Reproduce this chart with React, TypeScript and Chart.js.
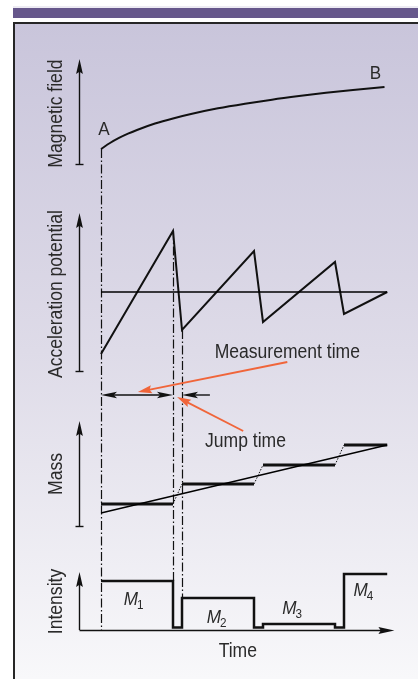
import React, { useEffect, useRef } from 'react';
import { Chart, registerables } from 'chart.js';

Chart.register(...registerables);

// ---- Data (time in arbitrary units: one scan = measurement 8 + jump 1) ----
const scanStart = [0, 9, 18, 27];
const scanEnd = [8, 17, 26, 31.8];

const fieldTimes = [0, 1, 2, 3, 4, 6, 8, 10, 13, 16, 19, 22, 25, 28, 31.5];
const fieldValues = [1.43, 2.0, 2.48, 2.89, 3.24, 3.85, 4.34, 4.76, 5.3, 5.74, 6.13, 6.47, 6.78, 7.05, 7.34];

const accStartValues = [-6.2, -3.8, -3.0, -2.2];
const accEndValues = [6.1, 4.1, 3.0, 0];
const accMean = 0;

const massLevels = [2.2, 4.2, 6.1, 8.1];
const massTrend = [1.3, 8.1];

const intensityLevels = [4.9, 3.2, 0.6, 5.6];
const intensityGap = 0.25;
const peakSubscripts = ['1', '2', '3', '4'];

const axisLabels = ['Magnetic field', 'Acceleration potential', 'Mass', 'Intensity'];

// ---- Panel layout (axis placement, not data) ----
const H = 679;
const W = 418;
const panels = [
  { id: 'yField', zero: 164, ppu: 10.5, from: 0, to: 10, labelAt: 4.8, tick: true },
  { id: 'yAcc', zero: 292, ppu: 10, from: -7.9, to: 7.9, labelAt: -0.2, tick: true },
  { id: 'yMass', zero: 526, ppu: 10, from: 0, to: 10.5, labelAt: 5.2, tick: true },
  { id: 'yInt', zero: 630, ppu: 10, from: 0, to: 5.8, labelAt: 2.85, tick: false },
];
const AXIS_T = -2.44;
const FONT = "'Liberation Sans', Arial, Helvetica, sans-serif";
const TEXT = '#2a2a2a';
const ORANGE = '#f0653a';
const SX = 0.9;

function head(ctx: CanvasRenderingContext2D, tx: number, ty: number, fx: number, fy: number, len: number, half: number, notch: number) {
  const dx = tx - fx, dy = ty - fy;
  const d = Math.hypot(dx, dy) || 1;
  const ux = dx / d, uy = dy / d;
  const nx = -uy, ny = ux;
  const bx = tx - ux * len, by = ty - uy * len;
  ctx.beginPath();
  ctx.moveTo(tx, ty);
  ctx.lineTo(bx + nx * half, by + ny * half);
  ctx.lineTo(tx - ux * len * (1 - notch), ty - uy * len * (1 - notch));
  ctx.lineTo(bx - nx * half, by - ny * half);
  ctx.closePath();
  ctx.fill();
}

function arrow(ctx: CanvasRenderingContext2D, fx: number, fy: number, tx: number, ty: number, color: string, lw: number, len: number, half: number, notch: number) {
  const dx = tx - fx, dy = ty - fy;
  const d = Math.hypot(dx, dy) || 1;
  ctx.strokeStyle = color;
  ctx.fillStyle = color;
  ctx.lineWidth = lw;
  ctx.beginPath();
  ctx.moveTo(fx, fy);
  ctx.lineTo(tx - (dx / d) * len * 0.6, ty - (dy / d) * len * 0.6);
  ctx.stroke();
  head(ctx, tx, ty, fx, fy, len, half, notch);
}

// condensed text: draws with horizontal scale SX around (x, y)
function ctext(ctx: CanvasRenderingContext2D, s: string, x: number, y: number, size: number, align: CanvasTextAlign = 'center', italic = false) {
  ctx.save();
  ctx.translate(x, y);
  ctx.scale(SX, 1);
  ctx.font = `${italic ? 'italic ' : ''}${size}px ${FONT}`;
  ctx.textAlign = align;
  ctx.textBaseline = 'alphabetic';
  ctx.fillText(s, 0, 0);
  ctx.restore();
}

const decor = {
  id: 'decor',
  beforeDraw(chart: any) {
    const ctx = chart.ctx as CanvasRenderingContext2D;
    ctx.save();
    ctx.fillStyle = '#ffffff';
    ctx.fillRect(0, 0, W, H);
    ctx.fillStyle = '#dcd8e8';
    ctx.fillRect(13, 6.5, W - 13, 1);
    ctx.fillStyle = '#66578b';
    ctx.fillRect(13, 8, W - 13, 10);
    const g = ctx.createLinearGradient(0, 24, 0, H);
    g.addColorStop(0, '#c9c5db');
    g.addColorStop(0.5, '#dedbe8');
    g.addColorStop(1, '#f8f8fa');
    ctx.fillStyle = g;
    ctx.fillRect(14, 23, W - 14, H - 23);
    ctx.fillStyle = '#262626';
    ctx.fillRect(13, 22, W - 13, 2);
    ctx.fillRect(13, 22, 2, H - 22);
    ctx.restore();
  },
  beforeDatasetsDraw(chart: any) {
    const ctx = chart.ctx as CanvasRenderingContext2D;
    const X = (t: number) => chart.scales.x.getPixelForValue(t);
    const Y = (id: string, v: number) => chart.scales[id].getPixelForValue(v);
    ctx.save();
    ctx.strokeStyle = '#111';
    ctx.lineWidth = 1.2;
    ctx.setLineDash([9, 2.5, 1.5, 2.5]);
    const lines = [
      [X(scanStart[0]), Y('yField', fieldValues[0]), Y('yInt', 0)],
      [X(scanEnd[0]), Y('yAcc', accEndValues[0]), Y('yInt', intensityLevels[0])],
      [X(scanStart[1]), Y('yAcc', accStartValues[1]), Y('yInt', intensityLevels[1])],
    ];
    lines.forEach(([x, y0, y1]) => {
      ctx.beginPath();
      ctx.moveTo(Math.round(x) + 0.5, y0);
      ctx.lineTo(Math.round(x) + 0.5, y1);
      ctx.stroke();
    });
    ctx.restore();
  },
  afterDatasetsDraw(chart: any) {
    const ctx = chart.ctx as CanvasRenderingContext2D;
    const X = (t: number) => chart.scales.x.getPixelForValue(t);
    const Y = (id: string, v: number) => chart.scales[id].getPixelForValue(v);
    ctx.save();
    const ax = Math.round(X(AXIS_T)) + 0.5;
    // panel axes
    panels.forEach((p) => {
      const yb = Y(p.id, p.from), yt = Y(p.id, p.to);
      ctx.strokeStyle = '#111';
      ctx.fillStyle = '#111';
      ctx.lineWidth = 1.4;
      ctx.beginPath();
      ctx.moveTo(ax, yb);
      ctx.lineTo(ax, yt + 8);
      ctx.stroke();
      head(ctx, ax, yt, ax, yb, 15, 3.4, 0.15);
      if (p.tick) {
        ctx.beginPath();
        ctx.moveTo(ax - 4, Math.round(yb) + 0.5);
        ctx.lineTo(ax + 4, Math.round(yb) + 0.5);
        ctx.stroke();
      }
    });
    // time axis
    const y0 = Math.round(Y('yInt', 0)) + 0.5;
    ctx.lineWidth = 1.4;
    ctx.beginPath();
    ctx.moveTo(ax, y0);
    ctx.lineTo(X(32.6) - 8, y0);
    ctx.stroke();
    head(ctx, X(32.6), y0, ax, y0, 16, 3.4, 0.15);

    // measurement / jump time arrows
    const ym = Y('yAcc', -10.3);
    const xa = X(scanStart[0]), xb = X(scanEnd[0]), xj = X(scanStart[1]);
    ctx.strokeStyle = '#111';
    ctx.fillStyle = '#111';
    ctx.lineWidth = 1.4;
    ctx.beginPath();
    ctx.moveTo(xa + 8, ym);
    ctx.lineTo(xb - 8, ym);
    ctx.stroke();
    head(ctx, xa, ym, xb, ym, 16, 3.2, 0.2);
    head(ctx, xb, ym, xa, ym, 16, 3.2, 0.2);
    ctx.beginPath();
    ctx.moveTo(X(scanStart[1] + 3.1), ym);
    ctx.lineTo(xj + 8, ym);
    ctx.stroke();
    head(ctx, xj, ym, X(scanStart[1] + 3.1), ym, 16, 3.2, 0.2);

    // orange pointers
    arrow(ctx, X(20.7), Y('yAcc', -7.0), X(4.1), Y('yAcc', -10.0), ORANGE, 1.8, 14, 4, 0.15);
    arrow(ctx, X(15.8), Y('yAcc', -13.9), X(8.45), Y('yAcc', -10.5), ORANGE, 1.8, 14, 4, 0.15);

    // texts
    ctx.fillStyle = TEXT;
    panels.forEach((p, i) => {
      ctx.save();
      ctx.translate(62, Y(p.id, p.labelAt));
      ctx.rotate(-Math.PI / 2);
      ctext(ctx, axisLabels[i], 0, 0, 19.5);
      ctx.restore();
    });
    ctext(ctx, 'A', X(0.33), Y('yField', 2.76), 19);
    ctext(ctx, 'B', X(30.5), Y('yField', 8.1), 19);
    ctext(ctx, 'Measurement time', X(20.7), Y('yAcc', -6.6), 19.5);
    ctext(ctx, 'Jump time', X(16.05), Y('yMass', 7.9), 19.5);
    ctext(ctx, 'Time', X(15.2), Y('yInt', -2.7), 19.5);

    const mPos = [[3.67, 2.5], [12.9, 0.7], [21.3, 1.6], [29.2, 3.4]];
    mPos.forEach(([t, v], i) => {
      const cx = X(t), by = Y('yInt', v);
      ctx.font = `italic 19px ${FONT}`;
      const mw = ctx.measureText('M').width * SX;
      ctx.font = `13px ${FONT}`;
      const sw = ctx.measureText(peakSubscripts[i]).width * SX;
      const left = cx - (mw + sw) / 2;
      ctext(ctx, 'M', left, by, 19, 'left', true);
      ctext(ctx, peakSubscripts[i], left + mw - 1, by + 4, 13, 'left');
    });
    ctx.restore();
  },
};

function axisRange(zero: number, ppu: number) {
  return { min: -(H - zero) / ppu, max: zero / ppu };
}

export default function App() {
  const ref = useRef<HTMLCanvasElement | null>(null);
  useEffect(() => {
    if (!ref.current) return;
    const fieldData = fieldTimes.map((t, i) => ({ x: t, y: fieldValues[i] }));
    const accData = scanStart.flatMap((t, i) => [
      { x: t, y: accStartValues[i] },
      { x: scanEnd[i], y: accEndValues[i] },
    ]);
    const accMeanData = [
      { x: scanStart[0], y: accMean },
      { x: scanEnd[scanEnd.length - 1], y: accMean },
    ];
    const massStepData: any[] = scanStart.flatMap((t, i) => [
      { x: t, y: massLevels[i] },
      { x: scanEnd[i], y: massLevels[i] },
      { x: scanEnd[i], y: null },
    ]);
    const massJoinData: any[] = [];
    for (let i = 0; i < scanStart.length - 1; i++) {
      massJoinData.push({ x: scanEnd[i], y: massLevels[i] });
      massJoinData.push({ x: scanStart[i + 1], y: massLevels[i + 1] });
      massJoinData.push({ x: scanStart[i + 1], y: null });
    }
    const massTrendData = [
      { x: scanStart[0], y: massTrend[0] },
      { x: scanEnd[scanEnd.length - 1], y: massTrend[1] },
    ];
    const intensityData: any[] = [];
    scanStart.forEach((t, i) => {
      intensityData.push({ x: t, y: intensityLevels[i] });
      const last = i === scanStart.length - 1;
      intensityData.push({ x: scanEnd[i], y: last ? intensityLevels[i] : intensityGap });
    });

    const base = { showLine: true, pointRadius: 0, borderColor: '#111', fill: false };
    const scales: any = {
      x: { type: 'linear', min: -10, max: 35, display: false },
      y: { type: 'linear', display: false },
    };
    panels.forEach((p) => {
      scales[p.id] = { type: 'linear', display: false, ...axisRange(p.zero, p.ppu) };
    });

    const chart = new Chart(ref.current, {
      type: 'scatter',
      data: {
        datasets: [
          { ...base, data: fieldData, yAxisID: 'yField', borderWidth: 2, cubicInterpolationMode: 'monotone' },
          { ...base, data: accMeanData, yAxisID: 'yAcc', borderWidth: 1.3, borderColor: '#000' },
          { ...base, data: accData, yAxisID: 'yAcc', borderWidth: 2, borderJoinStyle: 'miter' },
          { ...base, data: massTrendData, yAxisID: 'yMass', borderWidth: 1.3, borderColor: '#000' },
          { ...base, data: massJoinData, yAxisID: 'yMass', borderWidth: 1, borderDash: [1.5, 1.5] },
          { ...base, data: massStepData, yAxisID: 'yMass', borderWidth: 3, borderCapStyle: 'butt' },
          { ...base, data: intensityData, yAxisID: 'yInt', borderWidth: 2.5, stepped: true, borderJoinStyle: 'miter' },
        ] as any,
      },
      options: {
        responsive: false,
        maintainAspectRatio: false,
        devicePixelRatio: 1,
        animation: false,
        events: [],
        layout: { padding: { left: 11, right: 2, top: 0, bottom: 0 } },
        scales,
        plugins: { legend: { display: false }, tooltip: { enabled: false } },
      } as any,
      plugins: [decor],
    });
    return () => chart.destroy();
  }, []);
  return (
    <div style={{ position: 'absolute', left: 0, top: 0, width: W, height: H }}>
      <canvas ref={ref} width={W} height={H} style={{ display: 'block' }} />
    </div>
  );
}
